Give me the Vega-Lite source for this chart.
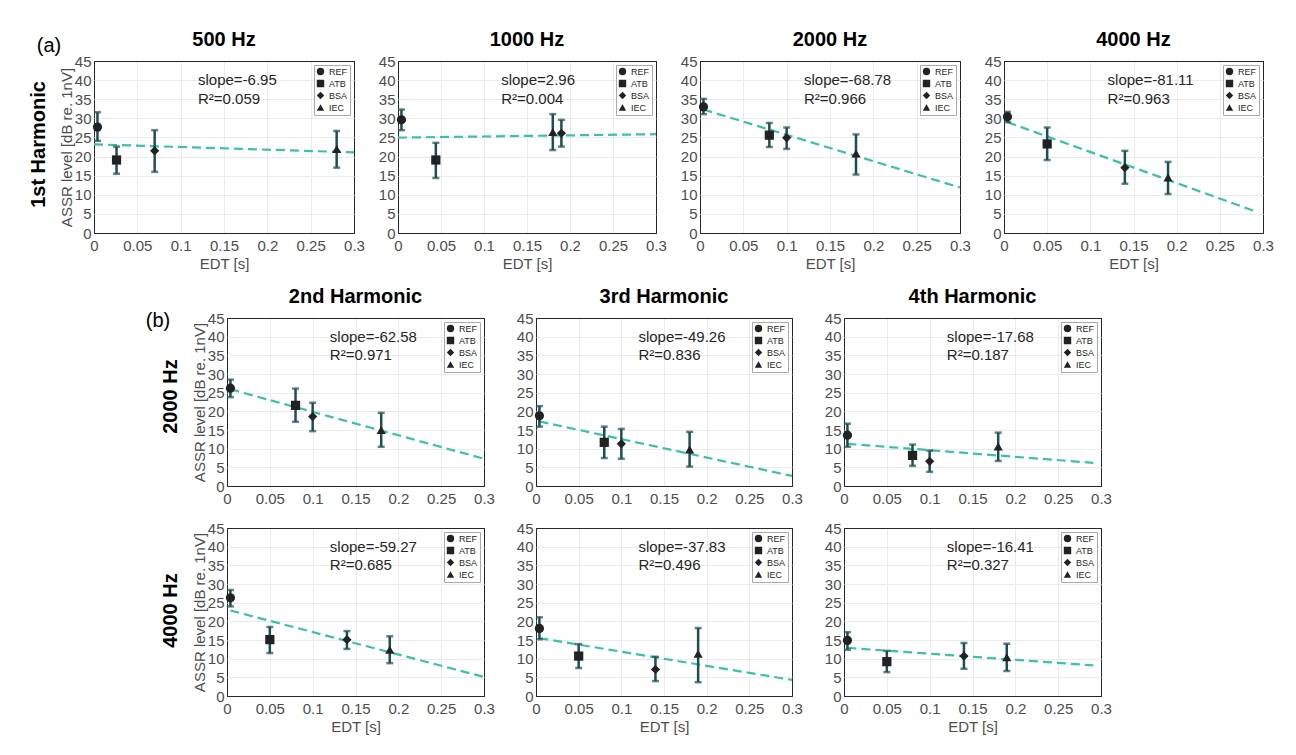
{
"$schema": "https://vega.github.io/schema/vega-lite/v6.json",
"padding": {"left": 28, "top": 29, "right": 0, "bottom": 0},
"background": "white",
"title": {"text":"(a)","orient":"top","anchor":"start","fontWeight":"normal","fontSize":20,"dx":8,"dy":30},
"datasets": {
"pts": [
{"p":"a1","m":"REF","edt":0.004,"v":27.7,"lo":24.1,"hi":31.6},
{"p":"a1","m":"ATB","edt":0.026,"v":19.1,"lo":15.5,"hi":22.6},
{"p":"a1","m":"BSA","edt":0.07,"v":21.5,"lo":16.0,"hi":26.9},
{"p":"a1","m":"IEC","edt":0.28,"v":22.0,"lo":17.1,"hi":26.7},
{"p":"a2","m":"REF","edt":0.004,"v":29.6,"lo":26.9,"hi":32.3},
{"p":"a2","m":"ATB","edt":0.044,"v":19.1,"lo":14.4,"hi":23.6},
{"p":"a2","m":"BSA","edt":0.19,"v":26.1,"lo":22.6,"hi":29.6},
{"p":"a2","m":"IEC","edt":0.18,"v":26.4,"lo":21.7,"hi":31.1},
{"p":"a3","m":"REF","edt":0.004,"v":33.0,"lo":31.1,"hi":35.1},
{"p":"a3","m":"ATB","edt":0.08,"v":25.6,"lo":22.5,"hi":28.8},
{"p":"a3","m":"BSA","edt":0.1,"v":24.9,"lo":22.0,"hi":27.6},
{"p":"a3","m":"IEC","edt":0.18,"v":20.8,"lo":15.3,"hi":25.8},
{"p":"a4","m":"REF","edt":0.004,"v":30.4,"lo":29.0,"hi":31.7},
{"p":"a4","m":"ATB","edt":0.05,"v":23.3,"lo":19.1,"hi":27.6},
{"p":"a4","m":"BSA","edt":0.14,"v":17.1,"lo":12.9,"hi":21.5},
{"p":"a4","m":"IEC","edt":0.19,"v":14.5,"lo":10.2,"hi":18.6},
{"p":"b1","m":"REF","edt":0.004,"v":26.2,"lo":23.8,"hi":28.5},
{"p":"b1","m":"ATB","edt":0.08,"v":21.6,"lo":17.2,"hi":26.1},
{"p":"b1","m":"BSA","edt":0.1,"v":18.6,"lo":14.7,"hi":22.3},
{"p":"b1","m":"IEC","edt":0.18,"v":15.0,"lo":10.5,"hi":19.6},
{"p":"b2","m":"REF","edt":0.004,"v":18.8,"lo":15.9,"hi":21.4},
{"p":"b2","m":"ATB","edt":0.08,"v":11.7,"lo":7.5,"hi":15.9},
{"p":"b2","m":"BSA","edt":0.1,"v":11.3,"lo":7.3,"hi":15.3},
{"p":"b2","m":"IEC","edt":0.18,"v":9.8,"lo":5.2,"hi":14.5},
{"p":"b3","m":"REF","edt":0.004,"v":13.6,"lo":10.5,"hi":16.7},
{"p":"b3","m":"ATB","edt":0.08,"v":8.2,"lo":5.4,"hi":11.1},
{"p":"b3","m":"BSA","edt":0.1,"v":6.6,"lo":3.8,"hi":9.5},
{"p":"b3","m":"IEC","edt":0.18,"v":10.6,"lo":6.7,"hi":14.3},
{"p":"c1","m":"REF","edt":0.004,"v":26.3,"lo":24.0,"hi":28.4},
{"p":"c1","m":"ATB","edt":0.05,"v":15.1,"lo":11.5,"hi":18.5},
{"p":"c1","m":"BSA","edt":0.14,"v":15.1,"lo":12.6,"hi":17.4},
{"p":"c1","m":"IEC","edt":0.19,"v":12.4,"lo":8.8,"hi":16.0},
{"p":"c2","m":"REF","edt":0.004,"v":18.1,"lo":15.2,"hi":21.1},
{"p":"c2","m":"ATB","edt":0.05,"v":10.7,"lo":7.5,"hi":13.9},
{"p":"c2","m":"BSA","edt":0.14,"v":7.1,"lo":4.0,"hi":10.5},
{"p":"c2","m":"IEC","edt":0.19,"v":11.3,"lo":3.7,"hi":18.2},
{"p":"c3","m":"REF","edt":0.004,"v":14.9,"lo":12.4,"hi":17.1},
{"p":"c3","m":"ATB","edt":0.05,"v":9.2,"lo":6.4,"hi":12.1},
{"p":"c3","m":"BSA","edt":0.14,"v":10.7,"lo":7.3,"hi":14.2},
{"p":"c3","m":"IEC","edt":0.19,"v":10.4,"lo":6.7,"hi":14.0}
],
"fit": [
{"p":"a1","edt":0.0,"v":23.2},{"p":"a1","edt":0.3,"v":21.1},
{"p":"a2","edt":0.0,"v":24.95},{"p":"a2","edt":0.3,"v":25.85},
{"p":"a3","edt":0.004,"v":32.3},{"p":"a3","edt":0.3,"v":11.9},
{"p":"a4","edt":0.004,"v":29.0},{"p":"a4","edt":0.293,"v":5.5},
{"p":"b1","edt":0.004,"v":25.9},{"p":"b1","edt":0.3,"v":7.3},
{"p":"b2","edt":0.004,"v":17.3},{"p":"b2","edt":0.3,"v":2.7},
{"p":"b3","edt":0.004,"v":11.3},{"p":"b3","edt":0.291,"v":6.2},
{"p":"c1","edt":0.004,"v":22.9},{"p":"c1","edt":0.3,"v":5.1},
{"p":"c2","edt":0.004,"v":15.5},{"p":"c2","edt":0.3,"v":4.3},
{"p":"c3","edt":0.004,"v":12.9},{"p":"c3","edt":0.291,"v":8.2}
],
"ann": [
{"p":"a1","s":"slope=-6.95","r":"R²=0.059"},
{"p":"a2","s":"slope=2.96","r":"R²=0.004"},
{"p":"a3","s":"slope=-68.78","r":"R²=0.966"},
{"p":"a4","s":"slope=-81.11","r":"R²=0.963"},
{"p":"b1","s":"slope=-62.58","r":"R²=0.971"},
{"p":"b2","s":"slope=-49.26","r":"R²=0.836"},
{"p":"b3","s":"slope=-17.68","r":"R²=0.187"},
{"p":"c1","s":"slope=-59.27","r":"R²=0.685"},
{"p":"c2","s":"slope=-37.83","r":"R²=0.496"},
{"p":"c3","s":"slope=-16.41","r":"R²=0.327"}
]
},
"vconcat": [
{
"hconcat": [
{"width":260,"height":172,"title":"500 Hz","layer":[
{"data":{"name":"fit"},"transform":[{"filter":"datum.p=='a1'"}],"mark":{"type":"line","strokeDash":[9,5],"strokeWidth":2.2,"color":"#38c3a6"},"encoding":{"x":{"field":"edt","type":"quantitative","scale":{"domain":[0,0.3],"nice":false},"axis":{"format":"~g","title":"EDT [s]","gridColor":{"condition":{"test":"datum.value < 0.001 || datum.value > 0.299","value":"#262626"},"value":"#ebebeb"}}},"y":{"field":"v","type":"quantitative","scale":{"domain":[0,45],"nice":false},"title":"ASSR level [dB re. 1nV]","axis":{"gridColor":{"condition":{"test":"datum.value < 0.01 || datum.value > 44.99","value":"#262626"},"value":"#ebebeb"}}}}},
{"data":{"name":"pts"},"transform":[{"filter":"datum.p=='a1'"}],"mark":{"type":"errorbar","color":"#1c5050","thickness":2.5,"size":7,"ticks":true},"encoding":{"x":{"field":"edt","type":"quantitative","scale":{"domain":[0,0.3],"nice":false},"title":"EDT [s]"},"y":{"field":"lo","type":"quantitative","scale":{"domain":[0,45],"nice":false},"title":"ASSR level [dB re. 1nV]"},"y2":{"field":"hi"}}},
{"data":{"name":"pts"},"transform":[{"filter":"datum.p=='a1'"}],"mark":{"type":"point","filled":true,"size":85,"color":"#222222","opacity":1},"encoding":{"x":{"field":"edt","type":"quantitative","scale":{"domain":[0,0.3],"nice":false},"title":"EDT [s]"},"y":{"field":"v","type":"quantitative","scale":{"domain":[0,45],"nice":false},"title":"ASSR level [dB re. 1nV]"},"shape":{"field":"m","type":"nominal","scale":{"domain":["REF","ATB","BSA","IEC"],"range":["circle","square","diamond","triangle-up"]},"legend":{"title":null}}}},
{"data":{"name":"ann"},"transform":[{"filter":"datum.p=='a1'"}],"mark":{"type":"text","align":"left"},"encoding":{"x":{"datum":0.12,"type":"quantitative","scale":{"domain":[0,0.3],"nice":false},"title":"EDT [s]"},"y":{"datum":40,"type":"quantitative","scale":{"domain":[0,45],"nice":false},"title":"ASSR level [dB re. 1nV]"},"text":{"field":"s"}}},
{"data":{"name":"ann"},"transform":[{"filter":"datum.p=='a1'"}],"mark":{"type":"text","align":"left"},"encoding":{"x":{"datum":0.12,"type":"quantitative","scale":{"domain":[0,0.3],"nice":false},"title":"EDT [s]"},"y":{"datum":35,"type":"quantitative","scale":{"domain":[0,45],"nice":false},"title":"ASSR level [dB re. 1nV]"},"text":{"field":"r"}}}
]},
{"width":258,"height":172,"title":"1000 Hz","layer":[
{"data":{"name":"fit"},"transform":[{"filter":"datum.p=='a2'"}],"mark":{"type":"line","strokeDash":[9,5],"strokeWidth":2.2,"color":"#38c3a6"},"encoding":{"x":{"field":"edt","type":"quantitative","scale":{"domain":[0,0.3],"nice":false},"axis":{"format":"~g","title":"EDT [s]","gridColor":{"condition":{"test":"datum.value < 0.001 || datum.value > 0.299","value":"#262626"},"value":"#ebebeb"}}},"y":{"field":"v","type":"quantitative","scale":{"domain":[0,45],"nice":false},"title":null,"axis":{"gridColor":{"condition":{"test":"datum.value < 0.01 || datum.value > 44.99","value":"#262626"},"value":"#ebebeb"}}}}},
{"data":{"name":"pts"},"transform":[{"filter":"datum.p=='a2'"}],"mark":{"type":"errorbar","color":"#1c5050","thickness":2.5,"size":7,"ticks":true},"encoding":{"x":{"field":"edt","type":"quantitative","scale":{"domain":[0,0.3],"nice":false},"title":"EDT [s]"},"y":{"field":"lo","type":"quantitative","scale":{"domain":[0,45],"nice":false},"title":null},"y2":{"field":"hi"}}},
{"data":{"name":"pts"},"transform":[{"filter":"datum.p=='a2'"}],"mark":{"type":"point","filled":true,"size":85,"color":"#222222","opacity":1},"encoding":{"x":{"field":"edt","type":"quantitative","scale":{"domain":[0,0.3],"nice":false},"title":"EDT [s]"},"y":{"field":"v","type":"quantitative","scale":{"domain":[0,45],"nice":false},"title":null},"shape":{"field":"m","type":"nominal","scale":{"domain":["REF","ATB","BSA","IEC"],"range":["circle","square","diamond","triangle-up"]},"legend":{"title":null}}}},
{"data":{"name":"ann"},"transform":[{"filter":"datum.p=='a2'"}],"mark":{"type":"text","align":"left"},"encoding":{"x":{"datum":0.12,"type":"quantitative","scale":{"domain":[0,0.3],"nice":false},"title":"EDT [s]"},"y":{"datum":40,"type":"quantitative","scale":{"domain":[0,45],"nice":false},"title":null},"text":{"field":"s"}}},
{"data":{"name":"ann"},"transform":[{"filter":"datum.p=='a2'"}],"mark":{"type":"text","align":"left"},"encoding":{"x":{"datum":0.12,"type":"quantitative","scale":{"domain":[0,0.3],"nice":false},"title":"EDT [s]"},"y":{"datum":35,"type":"quantitative","scale":{"domain":[0,45],"nice":false},"title":null},"text":{"field":"r"}}}
]},
{"width":260,"height":172,"title":"2000 Hz","layer":[
{"data":{"name":"fit"},"transform":[{"filter":"datum.p=='a3'"}],"mark":{"type":"line","strokeDash":[9,5],"strokeWidth":2.2,"color":"#38c3a6"},"encoding":{"x":{"field":"edt","type":"quantitative","scale":{"domain":[0,0.3],"nice":false},"axis":{"format":"~g","title":"EDT [s]","gridColor":{"condition":{"test":"datum.value < 0.001 || datum.value > 0.299","value":"#262626"},"value":"#ebebeb"}}},"y":{"field":"v","type":"quantitative","scale":{"domain":[0,45],"nice":false},"title":null,"axis":{"gridColor":{"condition":{"test":"datum.value < 0.01 || datum.value > 44.99","value":"#262626"},"value":"#ebebeb"}}}}},
{"data":{"name":"pts"},"transform":[{"filter":"datum.p=='a3'"}],"mark":{"type":"errorbar","color":"#1c5050","thickness":2.5,"size":7,"ticks":true},"encoding":{"x":{"field":"edt","type":"quantitative","scale":{"domain":[0,0.3],"nice":false},"title":"EDT [s]"},"y":{"field":"lo","type":"quantitative","scale":{"domain":[0,45],"nice":false},"title":null},"y2":{"field":"hi"}}},
{"data":{"name":"pts"},"transform":[{"filter":"datum.p=='a3'"}],"mark":{"type":"point","filled":true,"size":85,"color":"#222222","opacity":1},"encoding":{"x":{"field":"edt","type":"quantitative","scale":{"domain":[0,0.3],"nice":false},"title":"EDT [s]"},"y":{"field":"v","type":"quantitative","scale":{"domain":[0,45],"nice":false},"title":null},"shape":{"field":"m","type":"nominal","scale":{"domain":["REF","ATB","BSA","IEC"],"range":["circle","square","diamond","triangle-up"]},"legend":{"title":null}}}},
{"data":{"name":"ann"},"transform":[{"filter":"datum.p=='a3'"}],"mark":{"type":"text","align":"left"},"encoding":{"x":{"datum":0.12,"type":"quantitative","scale":{"domain":[0,0.3],"nice":false},"title":"EDT [s]"},"y":{"datum":40,"type":"quantitative","scale":{"domain":[0,45],"nice":false},"title":null},"text":{"field":"s"}}},
{"data":{"name":"ann"},"transform":[{"filter":"datum.p=='a3'"}],"mark":{"type":"text","align":"left"},"encoding":{"x":{"datum":0.12,"type":"quantitative","scale":{"domain":[0,0.3],"nice":false},"title":"EDT [s]"},"y":{"datum":35,"type":"quantitative","scale":{"domain":[0,45],"nice":false},"title":null},"text":{"field":"r"}}}
]},
{"width":259,"height":172,"title":"4000 Hz","layer":[
{"data":{"name":"fit"},"transform":[{"filter":"datum.p=='a4'"}],"mark":{"type":"line","strokeDash":[9,5],"strokeWidth":2.2,"color":"#38c3a6"},"encoding":{"x":{"field":"edt","type":"quantitative","scale":{"domain":[0,0.3],"nice":false},"axis":{"format":"~g","title":"EDT [s]","gridColor":{"condition":{"test":"datum.value < 0.001 || datum.value > 0.299","value":"#262626"},"value":"#ebebeb"}}},"y":{"field":"v","type":"quantitative","scale":{"domain":[0,45],"nice":false},"title":null,"axis":{"gridColor":{"condition":{"test":"datum.value < 0.01 || datum.value > 44.99","value":"#262626"},"value":"#ebebeb"}}}}},
{"data":{"name":"pts"},"transform":[{"filter":"datum.p=='a4'"}],"mark":{"type":"errorbar","color":"#1c5050","thickness":2.5,"size":7,"ticks":true},"encoding":{"x":{"field":"edt","type":"quantitative","scale":{"domain":[0,0.3],"nice":false},"title":"EDT [s]"},"y":{"field":"lo","type":"quantitative","scale":{"domain":[0,45],"nice":false},"title":null},"y2":{"field":"hi"}}},
{"data":{"name":"pts"},"transform":[{"filter":"datum.p=='a4'"}],"mark":{"type":"point","filled":true,"size":85,"color":"#222222","opacity":1},"encoding":{"x":{"field":"edt","type":"quantitative","scale":{"domain":[0,0.3],"nice":false},"title":"EDT [s]"},"y":{"field":"v","type":"quantitative","scale":{"domain":[0,45],"nice":false},"title":null},"shape":{"field":"m","type":"nominal","scale":{"domain":["REF","ATB","BSA","IEC"],"range":["circle","square","diamond","triangle-up"]},"legend":{"title":null}}}},
{"data":{"name":"ann"},"transform":[{"filter":"datum.p=='a4'"}],"mark":{"type":"text","align":"left"},"encoding":{"x":{"datum":0.12,"type":"quantitative","scale":{"domain":[0,0.3],"nice":false},"title":"EDT [s]"},"y":{"datum":40,"type":"quantitative","scale":{"domain":[0,45],"nice":false},"title":null},"text":{"field":"s"}}},
{"data":{"name":"ann"},"transform":[{"filter":"datum.p=='a4'"}],"mark":{"type":"text","align":"left"},"encoding":{"x":{"datum":0.12,"type":"quantitative","scale":{"domain":[0,0.3],"nice":false},"title":"EDT [s]"},"y":{"datum":35,"type":"quantitative","scale":{"domain":[0,45],"nice":false},"title":null},"text":{"field":"r"}}}
]}
],
"spacing": 44,
"bounds": "flush",
"title": {"text":"1st Harmonic","orient":"left","anchor":"middle","offset":10,"dx":6},
"resolve": {"scale":{"shape":"independent"},"legend":{"shape":"independent"}}
},
{
"hconcat": [
{"width":51,"height":10,"view":{"stroke":null},"data":{"values":[{"z":0}]},"mark":{"type":"point","opacity":0}},
{
"vconcat": [
{
"hconcat": [
{"width":257,"height":168,"title":"2nd Harmonic","layer":[
{"data":{"name":"fit"},"transform":[{"filter":"datum.p=='b1'"}],"mark":{"type":"line","strokeDash":[9,5],"strokeWidth":2.2,"color":"#38c3a6"},"encoding":{"x":{"field":"edt","type":"quantitative","scale":{"domain":[0,0.3],"nice":false},"axis":{"format":"~g","title":null,"gridColor":{"condition":{"test":"datum.value < 0.001 || datum.value > 0.299","value":"#262626"},"value":"#ebebeb"}}},"y":{"field":"v","type":"quantitative","scale":{"domain":[0,45],"nice":false},"title":"ASSR level [dB re. 1nV]","axis":{"gridColor":{"condition":{"test":"datum.value < 0.01 || datum.value > 44.99","value":"#262626"},"value":"#ebebeb"}}}}},
{"data":{"name":"pts"},"transform":[{"filter":"datum.p=='b1'"}],"mark":{"type":"errorbar","color":"#1c5050","thickness":2.5,"size":7,"ticks":true},"encoding":{"x":{"field":"edt","type":"quantitative","scale":{"domain":[0,0.3],"nice":false},"title":null},"y":{"field":"lo","type":"quantitative","scale":{"domain":[0,45],"nice":false},"title":"ASSR level [dB re. 1nV]"},"y2":{"field":"hi"}}},
{"data":{"name":"pts"},"transform":[{"filter":"datum.p=='b1'"}],"mark":{"type":"point","filled":true,"size":85,"color":"#222222","opacity":1},"encoding":{"x":{"field":"edt","type":"quantitative","scale":{"domain":[0,0.3],"nice":false},"title":null},"y":{"field":"v","type":"quantitative","scale":{"domain":[0,45],"nice":false},"title":"ASSR level [dB re. 1nV]"},"shape":{"field":"m","type":"nominal","scale":{"domain":["REF","ATB","BSA","IEC"],"range":["circle","square","diamond","triangle-up"]},"legend":{"title":null}}}},
{"data":{"name":"ann"},"transform":[{"filter":"datum.p=='b1'"}],"mark":{"type":"text","align":"left"},"encoding":{"x":{"datum":0.12,"type":"quantitative","scale":{"domain":[0,0.3],"nice":false},"title":null},"y":{"datum":40,"type":"quantitative","scale":{"domain":[0,45],"nice":false},"title":"ASSR level [dB re. 1nV]"},"text":{"field":"s"}}},
{"data":{"name":"ann"},"transform":[{"filter":"datum.p=='b1'"}],"mark":{"type":"text","align":"left"},"encoding":{"x":{"datum":0.12,"type":"quantitative","scale":{"domain":[0,0.3],"nice":false},"title":null},"y":{"datum":35,"type":"quantitative","scale":{"domain":[0,45],"nice":false},"title":"ASSR level [dB re. 1nV]"},"text":{"field":"r"}}}
]},
{"width":256,"height":168,"title":"3rd Harmonic","layer":[
{"data":{"name":"fit"},"transform":[{"filter":"datum.p=='b2'"}],"mark":{"type":"line","strokeDash":[9,5],"strokeWidth":2.2,"color":"#38c3a6"},"encoding":{"x":{"field":"edt","type":"quantitative","scale":{"domain":[0,0.3],"nice":false},"axis":{"format":"~g","title":null,"gridColor":{"condition":{"test":"datum.value < 0.001 || datum.value > 0.299","value":"#262626"},"value":"#ebebeb"}}},"y":{"field":"v","type":"quantitative","scale":{"domain":[0,45],"nice":false},"title":null,"axis":{"gridColor":{"condition":{"test":"datum.value < 0.01 || datum.value > 44.99","value":"#262626"},"value":"#ebebeb"}}}}},
{"data":{"name":"pts"},"transform":[{"filter":"datum.p=='b2'"}],"mark":{"type":"errorbar","color":"#1c5050","thickness":2.5,"size":7,"ticks":true},"encoding":{"x":{"field":"edt","type":"quantitative","scale":{"domain":[0,0.3],"nice":false},"title":null},"y":{"field":"lo","type":"quantitative","scale":{"domain":[0,45],"nice":false},"title":null},"y2":{"field":"hi"}}},
{"data":{"name":"pts"},"transform":[{"filter":"datum.p=='b2'"}],"mark":{"type":"point","filled":true,"size":85,"color":"#222222","opacity":1},"encoding":{"x":{"field":"edt","type":"quantitative","scale":{"domain":[0,0.3],"nice":false},"title":null},"y":{"field":"v","type":"quantitative","scale":{"domain":[0,45],"nice":false},"title":null},"shape":{"field":"m","type":"nominal","scale":{"domain":["REF","ATB","BSA","IEC"],"range":["circle","square","diamond","triangle-up"]},"legend":{"title":null}}}},
{"data":{"name":"ann"},"transform":[{"filter":"datum.p=='b2'"}],"mark":{"type":"text","align":"left"},"encoding":{"x":{"datum":0.12,"type":"quantitative","scale":{"domain":[0,0.3],"nice":false},"title":null},"y":{"datum":40,"type":"quantitative","scale":{"domain":[0,45],"nice":false},"title":null},"text":{"field":"s"}}},
{"data":{"name":"ann"},"transform":[{"filter":"datum.p=='b2'"}],"mark":{"type":"text","align":"left"},"encoding":{"x":{"datum":0.12,"type":"quantitative","scale":{"domain":[0,0.3],"nice":false},"title":null},"y":{"datum":35,"type":"quantitative","scale":{"domain":[0,45],"nice":false},"title":null},"text":{"field":"r"}}}
]},
{"width":257,"height":168,"title":"4th Harmonic","layer":[
{"data":{"name":"fit"},"transform":[{"filter":"datum.p=='b3'"}],"mark":{"type":"line","strokeDash":[9,5],"strokeWidth":2.2,"color":"#38c3a6"},"encoding":{"x":{"field":"edt","type":"quantitative","scale":{"domain":[0,0.3],"nice":false},"axis":{"format":"~g","title":null,"gridColor":{"condition":{"test":"datum.value < 0.001 || datum.value > 0.299","value":"#262626"},"value":"#ebebeb"}}},"y":{"field":"v","type":"quantitative","scale":{"domain":[0,45],"nice":false},"title":null,"axis":{"gridColor":{"condition":{"test":"datum.value < 0.01 || datum.value > 44.99","value":"#262626"},"value":"#ebebeb"}}}}},
{"data":{"name":"pts"},"transform":[{"filter":"datum.p=='b3'"}],"mark":{"type":"errorbar","color":"#1c5050","thickness":2.5,"size":7,"ticks":true},"encoding":{"x":{"field":"edt","type":"quantitative","scale":{"domain":[0,0.3],"nice":false},"title":null},"y":{"field":"lo","type":"quantitative","scale":{"domain":[0,45],"nice":false},"title":null},"y2":{"field":"hi"}}},
{"data":{"name":"pts"},"transform":[{"filter":"datum.p=='b3'"}],"mark":{"type":"point","filled":true,"size":85,"color":"#222222","opacity":1},"encoding":{"x":{"field":"edt","type":"quantitative","scale":{"domain":[0,0.3],"nice":false},"title":null},"y":{"field":"v","type":"quantitative","scale":{"domain":[0,45],"nice":false},"title":null},"shape":{"field":"m","type":"nominal","scale":{"domain":["REF","ATB","BSA","IEC"],"range":["circle","square","diamond","triangle-up"]},"legend":{"title":null}}}},
{"data":{"name":"ann"},"transform":[{"filter":"datum.p=='b3'"}],"mark":{"type":"text","align":"left"},"encoding":{"x":{"datum":0.12,"type":"quantitative","scale":{"domain":[0,0.3],"nice":false},"title":null},"y":{"datum":40,"type":"quantitative","scale":{"domain":[0,45],"nice":false},"title":null},"text":{"field":"s"}}},
{"data":{"name":"ann"},"transform":[{"filter":"datum.p=='b3'"}],"mark":{"type":"text","align":"left"},"encoding":{"x":{"datum":0.12,"type":"quantitative","scale":{"domain":[0,0.3],"nice":false},"title":null},"y":{"datum":35,"type":"quantitative","scale":{"domain":[0,45],"nice":false},"title":null},"text":{"field":"r"}}}
]}
],
"spacing": 52,
"bounds": "flush",
"title": {"text":"2000 Hz","orient":"left","anchor":"middle","offset":11},
"resolve": {"scale":{"shape":"independent"},"legend":{"shape":"independent"}}
},
{
"hconcat": [
{"width":257,"height":168,"layer":[
{"data":{"name":"fit"},"transform":[{"filter":"datum.p=='c1'"}],"mark":{"type":"line","strokeDash":[9,5],"strokeWidth":2.2,"color":"#38c3a6"},"encoding":{"x":{"field":"edt","type":"quantitative","scale":{"domain":[0,0.3],"nice":false},"axis":{"format":"~g","title":"EDT [s]","gridColor":{"condition":{"test":"datum.value < 0.001 || datum.value > 0.299","value":"#262626"},"value":"#ebebeb"}}},"y":{"field":"v","type":"quantitative","scale":{"domain":[0,45],"nice":false},"title":"ASSR level [dB re. 1nV]","axis":{"gridColor":{"condition":{"test":"datum.value < 0.01 || datum.value > 44.99","value":"#262626"},"value":"#ebebeb"}}}}},
{"data":{"name":"pts"},"transform":[{"filter":"datum.p=='c1'"}],"mark":{"type":"errorbar","color":"#1c5050","thickness":2.5,"size":7,"ticks":true},"encoding":{"x":{"field":"edt","type":"quantitative","scale":{"domain":[0,0.3],"nice":false},"title":"EDT [s]"},"y":{"field":"lo","type":"quantitative","scale":{"domain":[0,45],"nice":false},"title":"ASSR level [dB re. 1nV]"},"y2":{"field":"hi"}}},
{"data":{"name":"pts"},"transform":[{"filter":"datum.p=='c1'"}],"mark":{"type":"point","filled":true,"size":85,"color":"#222222","opacity":1},"encoding":{"x":{"field":"edt","type":"quantitative","scale":{"domain":[0,0.3],"nice":false},"title":"EDT [s]"},"y":{"field":"v","type":"quantitative","scale":{"domain":[0,45],"nice":false},"title":"ASSR level [dB re. 1nV]"},"shape":{"field":"m","type":"nominal","scale":{"domain":["REF","ATB","BSA","IEC"],"range":["circle","square","diamond","triangle-up"]},"legend":{"title":null}}}},
{"data":{"name":"ann"},"transform":[{"filter":"datum.p=='c1'"}],"mark":{"type":"text","align":"left"},"encoding":{"x":{"datum":0.12,"type":"quantitative","scale":{"domain":[0,0.3],"nice":false},"title":"EDT [s]"},"y":{"datum":40,"type":"quantitative","scale":{"domain":[0,45],"nice":false},"title":"ASSR level [dB re. 1nV]"},"text":{"field":"s"}}},
{"data":{"name":"ann"},"transform":[{"filter":"datum.p=='c1'"}],"mark":{"type":"text","align":"left"},"encoding":{"x":{"datum":0.12,"type":"quantitative","scale":{"domain":[0,0.3],"nice":false},"title":"EDT [s]"},"y":{"datum":35,"type":"quantitative","scale":{"domain":[0,45],"nice":false},"title":"ASSR level [dB re. 1nV]"},"text":{"field":"r"}}}
]},
{"width":256,"height":168,"layer":[
{"data":{"name":"fit"},"transform":[{"filter":"datum.p=='c2'"}],"mark":{"type":"line","strokeDash":[9,5],"strokeWidth":2.2,"color":"#38c3a6"},"encoding":{"x":{"field":"edt","type":"quantitative","scale":{"domain":[0,0.3],"nice":false},"axis":{"format":"~g","title":"EDT [s]","gridColor":{"condition":{"test":"datum.value < 0.001 || datum.value > 0.299","value":"#262626"},"value":"#ebebeb"}}},"y":{"field":"v","type":"quantitative","scale":{"domain":[0,45],"nice":false},"title":null,"axis":{"gridColor":{"condition":{"test":"datum.value < 0.01 || datum.value > 44.99","value":"#262626"},"value":"#ebebeb"}}}}},
{"data":{"name":"pts"},"transform":[{"filter":"datum.p=='c2'"}],"mark":{"type":"errorbar","color":"#1c5050","thickness":2.5,"size":7,"ticks":true},"encoding":{"x":{"field":"edt","type":"quantitative","scale":{"domain":[0,0.3],"nice":false},"title":"EDT [s]"},"y":{"field":"lo","type":"quantitative","scale":{"domain":[0,45],"nice":false},"title":null},"y2":{"field":"hi"}}},
{"data":{"name":"pts"},"transform":[{"filter":"datum.p=='c2'"}],"mark":{"type":"point","filled":true,"size":85,"color":"#222222","opacity":1},"encoding":{"x":{"field":"edt","type":"quantitative","scale":{"domain":[0,0.3],"nice":false},"title":"EDT [s]"},"y":{"field":"v","type":"quantitative","scale":{"domain":[0,45],"nice":false},"title":null},"shape":{"field":"m","type":"nominal","scale":{"domain":["REF","ATB","BSA","IEC"],"range":["circle","square","diamond","triangle-up"]},"legend":{"title":null}}}},
{"data":{"name":"ann"},"transform":[{"filter":"datum.p=='c2'"}],"mark":{"type":"text","align":"left"},"encoding":{"x":{"datum":0.12,"type":"quantitative","scale":{"domain":[0,0.3],"nice":false},"title":"EDT [s]"},"y":{"datum":40,"type":"quantitative","scale":{"domain":[0,45],"nice":false},"title":null},"text":{"field":"s"}}},
{"data":{"name":"ann"},"transform":[{"filter":"datum.p=='c2'"}],"mark":{"type":"text","align":"left"},"encoding":{"x":{"datum":0.12,"type":"quantitative","scale":{"domain":[0,0.3],"nice":false},"title":"EDT [s]"},"y":{"datum":35,"type":"quantitative","scale":{"domain":[0,45],"nice":false},"title":null},"text":{"field":"r"}}}
]},
{"width":257,"height":168,"layer":[
{"data":{"name":"fit"},"transform":[{"filter":"datum.p=='c3'"}],"mark":{"type":"line","strokeDash":[9,5],"strokeWidth":2.2,"color":"#38c3a6"},"encoding":{"x":{"field":"edt","type":"quantitative","scale":{"domain":[0,0.3],"nice":false},"axis":{"format":"~g","title":"EDT [s]","gridColor":{"condition":{"test":"datum.value < 0.001 || datum.value > 0.299","value":"#262626"},"value":"#ebebeb"}}},"y":{"field":"v","type":"quantitative","scale":{"domain":[0,45],"nice":false},"title":null,"axis":{"gridColor":{"condition":{"test":"datum.value < 0.01 || datum.value > 44.99","value":"#262626"},"value":"#ebebeb"}}}}},
{"data":{"name":"pts"},"transform":[{"filter":"datum.p=='c3'"}],"mark":{"type":"errorbar","color":"#1c5050","thickness":2.5,"size":7,"ticks":true},"encoding":{"x":{"field":"edt","type":"quantitative","scale":{"domain":[0,0.3],"nice":false},"title":"EDT [s]"},"y":{"field":"lo","type":"quantitative","scale":{"domain":[0,45],"nice":false},"title":null},"y2":{"field":"hi"}}},
{"data":{"name":"pts"},"transform":[{"filter":"datum.p=='c3'"}],"mark":{"type":"point","filled":true,"size":85,"color":"#222222","opacity":1},"encoding":{"x":{"field":"edt","type":"quantitative","scale":{"domain":[0,0.3],"nice":false},"title":"EDT [s]"},"y":{"field":"v","type":"quantitative","scale":{"domain":[0,45],"nice":false},"title":null},"shape":{"field":"m","type":"nominal","scale":{"domain":["REF","ATB","BSA","IEC"],"range":["circle","square","diamond","triangle-up"]},"legend":{"title":null}}}},
{"data":{"name":"ann"},"transform":[{"filter":"datum.p=='c3'"}],"mark":{"type":"text","align":"left"},"encoding":{"x":{"datum":0.12,"type":"quantitative","scale":{"domain":[0,0.3],"nice":false},"title":"EDT [s]"},"y":{"datum":40,"type":"quantitative","scale":{"domain":[0,45],"nice":false},"title":null},"text":{"field":"s"}}},
{"data":{"name":"ann"},"transform":[{"filter":"datum.p=='c3'"}],"mark":{"type":"text","align":"left"},"encoding":{"x":{"datum":0.12,"type":"quantitative","scale":{"domain":[0,0.3],"nice":false},"title":"EDT [s]"},"y":{"datum":35,"type":"quantitative","scale":{"domain":[0,45],"nice":false},"title":null},"text":{"field":"r"}}}
]}
],
"spacing": 52,
"bounds": "flush",
"title": {"text":"4000 Hz","orient":"left","anchor":"middle","offset":11,"dx":17},
"resolve": {"scale":{"shape":"independent"},"legend":{"shape":"independent"}}
}
],
"spacing": 13,
"title": {"text":"(b)","orient":"top","anchor":"start","fontWeight":"normal","fontSize":20,"dx":-15,"dy":48},
"resolve": {"scale":{"shape":"independent"},"legend":{"shape":"independent"}}
}
],
"spacing": 0,
"resolve": {"scale":{"shape":"independent"},"legend":{"shape":"independent"}}
}
],
"spacing": 14,
"resolve": {"scale":{"shape":"independent"},"legend":{"shape":"independent"}},
"config": {
"font": "Liberation Sans",
"view": {"stroke": "#262626", "strokeWidth": 1},
"title": {"font": "Liberation Sans", "fontSize": 20, "fontWeight": "bold", "color": "#000000", "offset": 4},
"axis": {"labelFont": "Liberation Sans", "labelFontSize": 15, "labelColor": "#4d4d4d", "titleFont": "Liberation Sans", "titleFontSize": 15, "titleFontWeight": "normal", "titleColor": "#4d4d4d", "gridColor": "#ebebeb", "ticks": false, "domain": false, "labelFlush": false, "labelOverlap": false},
"axisX": {"tickCount": 7, "labelPadding": 5, "titlePadding": 3},
"axisY": {"tickCount": 10, "labelPadding": 3, "titlePadding": 0},
"legend": {"orient": "top-right", "offset": 4, "padding": 2, "strokeColor": "#aaaaaa", "fillColor": "#ffffff", "labelFont": "Liberation Sans", "labelFontSize": 9, "labelColor": "#262626", "symbolSize": 55, "rowPadding": 2, "clipHeight": 9, "labelOffset": 4, "cornerRadius": 0},
"text": {"font": "Liberation Sans", "fontSize": 15, "color": "#262626"}
}
}
